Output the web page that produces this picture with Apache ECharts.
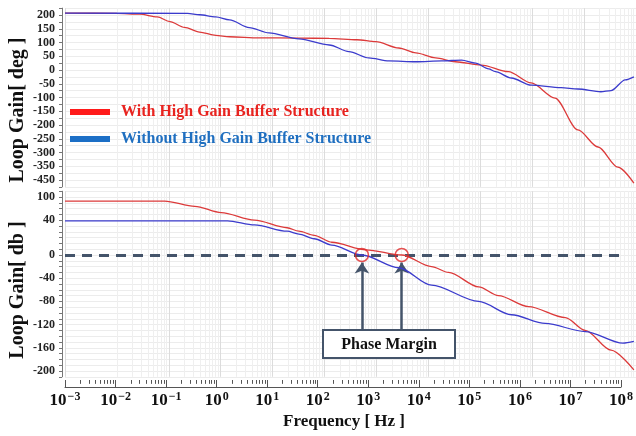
<!DOCTYPE html>
<html><head><meta charset="utf-8">
<script src="https://cdn.jsdelivr.net/npm/echarts@6/dist/echarts.min.js"></script>
<style>html,body{margin:0;padding:0;background:#fff}#c{width:636px;height:436px}</style>
</head><body><div id="c"></div>
<script>
const seriesNames = ['With High Gain Buffer Structure', 'Without High Gain Buffer Structure'];

// Phase (top panel), frequency in Hz
const phaseFreqWith = [0.001, 0.01, 0.0275, 0.06, 0.105, 0.2, 0.39, 0.8, 1.48, 5.5, 32, 123, 420, 977, 2690, 5750, 13800, 33100, 105000, 347000, 955000, 2.75e6, 7.6e6, 1.86e7, 4.47e7, 9.1e7];
const phaseWith     = [207, 206, 203, 193, 176, 155, 138, 126, 121, 117, 116, 115, 110, 103, 80, 62, 44, 30, 18, -6, -47, -102, -218, -280, -353, -411];
const phaseFreqWithout = [0.001, 0.23, 0.39, 0.8, 1.48, 3.55, 8.5, 32, 123, 295, 708, 1740, 5750, 18200, 43700, 81300, 145000, 195000, 398000, 955000, 3.6e6, 7.6e6, 2.1e7, 3.3e7, 6.2e7, 9.1e7];
const phaseWithout     = [207, 206, 201, 193, 182, 154, 135, 113, 91, 67, 44, 33, 30, 33, 36, 25, 4, -6, -29, -55, -64, -69, -79, -75, -36, -25];

// Gain (bottom panel)
const gainFreqWith = [0.001, 0.083, 0.316, 1.02, 4.47, 19, 32, 63, 138, 631, 3070, 11500, 24500, 93000, 224000, 850000, 4.37e6, 1.05e7, 3.3e7, 9.1e7];
const gainWith     = [93, 93, 84, 73, 60, 47, 41, 34, 22, 9, 0, -20, -30, -55, -70, -89, -108, -130, -164, -198];
const gainFreqWithout = [0.001, 1.35, 4.47, 19, 32, 63, 138, 525, 2690, 11500, 93000, 398000, 1.78e6, 1.05e7, 5.6e7, 9.1e7];
const gainWithout     = [59, 59, 52, 41, 36, 28, 17, 0, -22, -52, -80, -103, -118, -132, -152, -149];

// Phase margin markers
const pmFreq = [525, 3070];
const pmGain = [0, 0];
const pmArrowFrom = -129, pmArrowTo = -13;
const zeroLineFreq = [0.001, 5.6e7];

// Tick labels
const phaseTickValues = [200, 150, 100, 50, 0, -50, -100, -150, -200, -250, -300, -350, -400];
const phaseTickLabels = ['200', '150', '100', '50', '0', '-50', '-100', '-150', '-200', '-250', '-300', '-350', '-450'];
const gainTickValues = [100, 60, 0, -40, -80, -120, -160, -200];
const gainTickLabels = ['100', '40', '0', '-40', '-80', '-120', '-160', '-200'];
const freqMin = 1e-3, freqMax = 1e8;

const FONT = 'Liberation Serif';
const zip = (a, b) => a.map((v, i) => [v, b[i]]);

const minorFreqs = [];
const majorFreqs = [];
for (let n = -3; n <= 8; n++) {
  majorFreqs.push(Math.pow(10, n));
  if (n < 8) for (let k = 2; k <= 9; k++) minorFreqs.push(k * Math.pow(10, n));
}

const labelFrom = (vals, labs) => v => {
  const i = vals.indexOf(Math.round(v));
  return i >= 0 ? labs[i] : '';
};

const yLabelStyle = { fontFamily: FONT, fontWeight: 'bold', fontSize: 12, color: '#222', margin: 7 };
const logAxisBase = { type: 'log', logBase: 10, min: freqMin, max: freqMax, interval: 1, splitNumber: 11 };
const gridX = (gi) => Object.assign({
  gridIndex: gi,
  axisLine: { show: false }, axisTick: { show: false }, axisLabel: { show: false },
  splitLine: { show: true, lineStyle: { color: '#dcdcdc', width: 1 } }
}, logAxisBase);
const minorGrid = (gi) => ({
  type: 'line', xAxisIndex: gi, yAxisIndex: gi, data: [], silent: true, z: 1, zlevel: 0,
  markLine: {
    silent: true, symbol: 'none', label: { show: false }, animation: false,
    lineStyle: { color: '#efefef', width: 1, type: 'solid' },
    emphasis: { disabled: true },
    data: minorFreqs.map(f => ({ xAxis: f }))
  }
});
const curve = (name, gi, f, v, color) => ({
  type: 'line', name, xAxisIndex: gi, yAxisIndex: gi, data: zip(f, v), zlevel: 1,
  showSymbol: false, symbol: 'none', smooth: 0.3, smoothMonotone: 'x', z: 3,
  color, lineStyle: { color, width: 1.3 }, emphasis: { disabled: true }
});

const option = {
  animation: false,
  grid: [
    { left: 65, right: -2, top: 8.125, height: 178.75 },
    { left: 65, right: -2, top: 191.2, height: 185.6 },
    { left: 65, right: -2, top: 380, height: 7 }
  ],
  xAxis: [
    gridX(0), gridX(1),
    Object.assign({ gridIndex: 2, position: 'top',
      axisLine: { show: true, lineStyle: { color: '#555', width: 1 } }, axisTick: { show: false },
      axisLabel: { show: false }, splitLine: { show: false } }, logAxisBase),
    Object.assign({ gridIndex: 2, position: 'bottom',
      axisLine: { show: false }, axisTick: { show: false }, splitLine: { show: false },
      axisLabel: {
        show: true, margin: 4, hideOverlap: false,
        formatter: v => '{b|10}{s|' + String(Math.round(Math.log10(v))).replace('-', '\u2212') + '}',
        rich: {
          b: { fontFamily: FONT, fontWeight: 'bold', fontSize: 17, color: '#111', lineHeight: 20 },
          s: { fontFamily: FONT, fontWeight: 'bold', fontSize: 12, color: '#111', lineHeight: 12, verticalAlign: 'top', padding: [0, 0, 0, 1] }
        }
      } }, logAxisBase)
  ],
  yAxis: [
    { gridIndex: 0, type: 'value', min: -425, max: 225, interval: 25, offset: 3,
      axisLine: { show: true, lineStyle: { color: '#777' } },
      axisTick: { show: true, length: 3, lineStyle: { color: '#777' } },
      axisLabel: Object.assign({ formatter: labelFrom(phaseTickValues, phaseTickLabels) }, yLabelStyle),
      splitLine: { show: true, lineStyle: { color: '#ececec' } } },
    { gridIndex: 1, type: 'value', min: -210, max: 110, interval: 10, offset: 3,
      axisLine: { show: true, lineStyle: { color: '#777' } },
      axisTick: { show: true, length: 3, lineStyle: { color: '#777' } },
      axisLabel: Object.assign({ formatter: labelFrom(gainTickValues, gainTickLabels) }, yLabelStyle),
      splitLine: { show: true, lineStyle: { color: '#ececec' } } },
    { gridIndex: 2, type: 'value', min: 0, max: 1, show: false }
  ],
  legend: {
    orient: 'vertical', left: 65, top: 99, itemWidth: 40, itemHeight: 6, itemGap: 11,
    icon: 'rect', selectedMode: false, zlevel: 1,
    textStyle: { fontFamily: FONT, fontWeight: 'bold', fontSize: 16, lineHeight: 16, padding: [0, 0, 0, 6] },
    data: [
      { name: seriesNames[0], itemStyle: { color: '#ff1a1a' }, textStyle: { color: '#e8231f' } },
      { name: seriesNames[1], itemStyle: { color: '#1c6fc6' }, textStyle: { color: '#1f6fc0' } }
    ]
  },
  series: [
    minorGrid(0), minorGrid(1),
    curve(seriesNames[0], 0, phaseFreqWith, phaseWith, '#dc3a3a'),
    curve(seriesNames[1], 0, phaseFreqWithout, phaseWithout, '#3b3bcc'),
    curve(seriesNames[0], 1, gainFreqWith, gainWith, '#dc3a3a'),
    curve(seriesNames[1], 1, gainFreqWithout, gainWithout, '#3b3bcc'),
    { type: 'line', xAxisIndex: 2, yAxisIndex: 2, data: [], silent: true,
      markLine: { silent: true, symbol: 'none', label: { show: false }, animation: false,
        lineStyle: { color: '#555', width: 1, type: 'solid' }, emphasis: { disabled: true },
        data: majorFreqs.map(f => [{ coord: [f, 1] }, { coord: [f, 0] }])
          .concat(minorFreqs.map(f => [{ coord: [f, 1] }, { coord: [f, 0.45] }])) } },
    { type: 'scatter', xAxisIndex: 1, yAxisIndex: 1, data: zip(pmFreq, pmGain), z: 6, zlevel: 1, silent: true,
      symbol: 'circle', symbolSize: 13,
      itemStyle: { color: 'rgba(255,255,255,0)', borderColor: '#e02828', borderWidth: 1.5 },
      markLine: { silent: true, label: { show: false }, animation: false, symbolSize: 11,
        emphasis: { disabled: true },
        data: [
          [{ coord: [zeroLineFreq[0], 0], symbol: 'none', lineStyle: { color: '#44546a', width: 3, type: [10, 7] } },
           { coord: [zeroLineFreq[1], 0], symbol: 'none' }],
          [{ coord: [pmFreq[0], pmArrowFrom], symbol: 'none', lineStyle: { color: '#44546a', width: 2.5, type: 'solid' } },
           { coord: [pmFreq[0], pmArrowTo], symbol: 'arrow' }],
          [{ coord: [pmFreq[1], pmArrowFrom], symbol: 'none', lineStyle: { color: '#44546a', width: 2.5, type: 'solid' } },
           { coord: [pmFreq[1], pmArrowTo], symbol: 'arrow' }]
        ] } }
  ],
  graphic: [
    { type: 'text', x: 18, y: 110, rotation: Math.PI / 2, z: 10,
      style: { text: 'Loop Gain[ deg ]', font: 'bold 20px "Liberation Serif"', fill: '#111', align: 'center', verticalAlign: 'middle' } },
    { type: 'text', x: 18, y: 290, rotation: Math.PI / 2, z: 10,
      style: { text: 'Loop Gain[ db ]', font: 'bold 20px "Liberation Serif"', fill: '#111', align: 'center', verticalAlign: 'middle' } },
    { type: 'text', x: 344, y: 422, z: 10,
      style: { text: 'Frequency [ Hz ]', font: 'bold 17px "Liberation Serif"', fill: '#111', align: 'center', verticalAlign: 'middle' } },
    { type: 'rect', z: 20, zlevel: 1, shape: { x: 323, y: 330, width: 132, height: 28 },
      style: { fill: '#fff', stroke: '#44546a', lineWidth: 2 } },
    { type: 'text', x: 389, y: 345, z: 21, zlevel: 1,
      style: { text: 'Phase Margin', font: 'bold 16px "Liberation Serif"', fill: '#111', align: 'center', verticalAlign: 'middle' } }
  ]
};
const chart = echarts.init(document.getElementById('c'), null, { renderer: 'canvas' });
chart.setOption(option);
</script></body></html>
